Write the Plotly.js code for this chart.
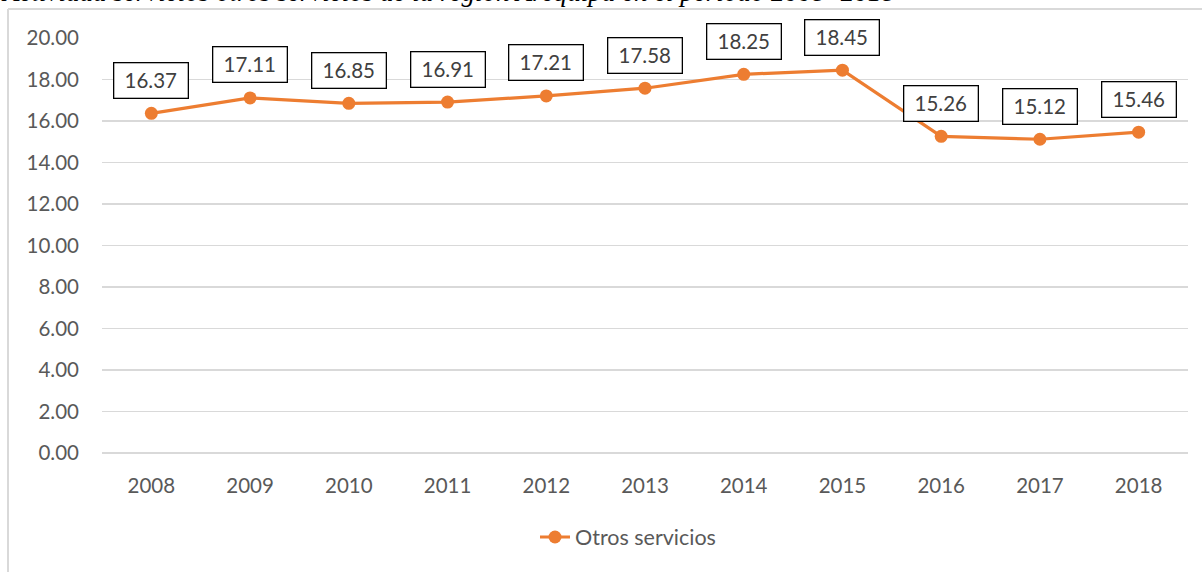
<!DOCTYPE html>
<html>
<head>
<meta charset="utf-8">
<script src="https://cdn.plot.ly/plotly-3.0.1.min.js"></script>
<style>
html,body{margin:0;padding:0;background:#fff;}
#chart{width:1202px;height:572px;}
</style>
</head>
<body>
<div id="chart"></div>
<script>
const years = ['2008','2009','2010','2011','2012','2013','2014','2015','2016','2017','2018'];
const otrosServicios = [16.37, 17.11, 16.85, 16.91, 17.21, 17.58, 18.25, 18.45, 15.26, 15.12, 15.46];
const seriesName = 'Otros servicios';
const yTicks = [0,2,4,6,8,10,12,14,16,18,20];
const chartTitle = 'Actividad servicios otros servicios de la región Arequipa en el periodo 2008- 2018';

const W = 1202, H = 572;
const L = 102, R = 14, T = 38, B = 119;
const pw = W - L - R, ph = H - T - B;
const px = v => (v - L) / pw;
const py = v => (H - B - v) / ph;

const orange = '#ED7D31';
const font = 'Lato, "Open Sans", sans-serif';

const trace = {
  x: years,
  y: otrosServicios,
  type: 'scatter',
  mode: 'lines+markers',
  name: seriesName,
  line: {color: orange, width: 3.2},
  marker: {color: orange, size: 13},
  cliponaxis: false
};

const labels = years.map((yr, i) => ({
  x: i, y: otrosServicios[i], xref: 'x', yref: 'y',
  text: '\u00a0' + otrosServicios[i].toFixed(2) + '\u00a0',
  showarrow: false, yshift: 33,
  font: {family: font, size: 20.5, color: '#404040'},
  bgcolor: '#ffffff', bordercolor: '#000000', borderwidth: 1.3, borderpad: 5
}));

const titleAnn = {
  xref: 'paper', yref: 'paper', x: px(-1), y: py(9), xanchor: 'left', yanchor: 'bottom',
  text: '<i>' + chartTitle + '</i>', showarrow: false,
  font: {family: '"Liberation Serif", "Times New Roman", serif', size: 27, color: '#000'}
};

const layout = {
  width: W, height: H,
  margin: {l: L, r: R, t: T, b: B},
  paper_bgcolor: '#fff', plot_bgcolor: '#fff',
  showlegend: true,
  legend: {orientation: 'h', x: px(628), xanchor: 'center', y: py(537), yanchor: 'middle',
           font: {family: font, size: 21.5, color: '#595959'}},
  xaxis: {type: 'category', range: [-0.5, 10.5], showgrid: false, zeroline: false, showline: false,
          ticks: '', ticklabelstandoff: 18, tickfont: {family: font, size: 20.5, color: '#595959'}},
  yaxis: {range: [0, 20], tickvals: yTicks, tickformat: '.2f', showgrid: true, gridcolor: '#d9d9d9', gridwidth: 1.3,
          zeroline: true, zerolinecolor: '#d9d9d9', zerolinewidth: 1.3, showline: false, ticks: '',
          ticklabelstandoff: 22, tickfont: {family: font, size: 20.5, color: '#595959'}},
  shapes: [
    {type: 'line', xref: 'paper', yref: 'paper', x0: px(8), x1: px(8), y0: py(9), y1: py(580), line: {color: '#d9d9d9', width: 2}},
    {type: 'line', xref: 'paper', yref: 'paper', x0: px(8), x1: px(1210), y0: py(9), y1: py(9), line: {color: '#d9d9d9', width: 2}}
  ],
  annotations: [titleAnn].concat(labels)
};

Plotly.newPlot('chart', [trace], layout, {displayModeBar: false, staticPlot: true});
</script>
</body>
</html>
